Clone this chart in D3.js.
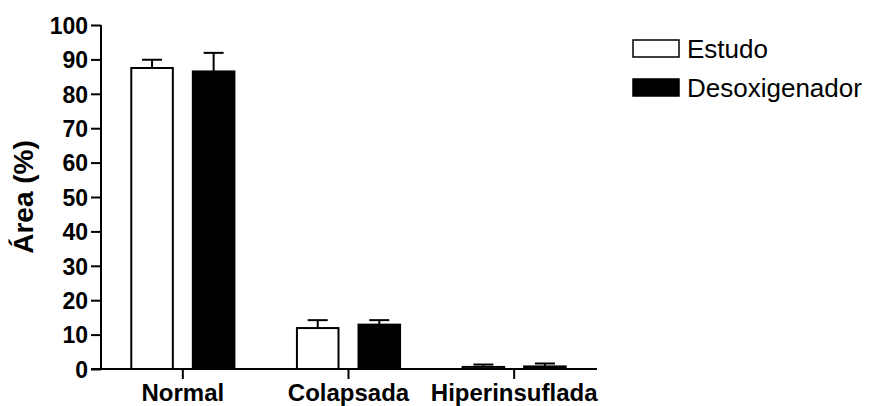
<!DOCTYPE html>
<html>
<head>
<meta charset="utf-8">
<script src="https://cdn.jsdelivr.net/npm/d3@7"></script>
<style>
  body { margin: 0; background: #fff; }
  text { font-family: "Liberation Sans", Arial, sans-serif; fill: #000; }
</style>
</head>
<body>
<div id="chart"></div>
<script>
// data
const categories = ["Normal", "Colapsada", "Hiperinsuflada"];
const seriesNames = ["Estudo", "Desoxigenador"];
const estudoMean = [87.5, 11.9, 0.6];
const estudoErr = [2.4, 2.3, 0.7];
const desoxMean = [86.5, 12.9, 0.75];
const desoxErr = [5.4, 1.3, 0.85];
const yTicks = [0, 10, 20, 30, 40, 50, 60, 70, 80, 90, 100];

const width = 869, height = 406;

const svg = d3.select("#chart").append("svg")
    .attr("width", width)
    .attr("height", height);

let rows = [];
categories.forEach((c, i) => {
    rows.push({cat: c, series: "Estudo", mean: estudoMean[i], err: estudoErr[i]});
    rows.push({cat: c, series: "Desoxigenador", mean: desoxMean[i], err: desoxErr[i]});
});

let y = d3.scaleLinear().domain([0, 100]).range([369, 25]);

let x = d3.scaleBand().domain(categories).range([100, 597]).padding(0);

let xInner = d3.scaleBand().domain(seriesNames)
    .range([0, x.bandwidth()])
    .paddingInner(0.325)
    .paddingOuter(0.508);

let fill = d3.scaleOrdinal().domain(seriesNames).range(["#fff", "#000"]);

// bars
svg.selectAll("rect.bar")
    .data(rows)
    .enter()
    .append("rect")
    .attr("class", "bar")
    .attr("x", d => x(d.cat) + xInner(d.series))
    .attr("y", d => y(d.mean))
    .attr("width", xInner.bandwidth())
    .attr("height", d => y(0) - y(d.mean))
    .attr("fill", d => fill(d.series))
    .attr("stroke", "#000")
    .attr("stroke-width", 2);

// error bars (upper only)
let cap = 10;
let err = svg.selectAll("g.err")
    .data(rows)
    .enter()
    .append("g")
    .attr("class", "err")
    .attr("transform", d => "translate(" + (x(d.cat) + xInner(d.series) + xInner.bandwidth() / 2) + ",0)");
err.append("line")
    .attr("x1", 0).attr("x2", 0)
    .attr("y1", d => y(d.mean))
    .attr("y2", d => y(d.mean + d.err))
    .attr("stroke", "#000")
    .attr("stroke-width", 2);
err.append("line")
    .attr("x1", -cap).attr("x2", cap)
    .attr("y1", d => y(d.mean + d.err))
    .attr("y2", d => y(d.mean + d.err))
    .attr("stroke", "#000")
    .attr("stroke-width", 2);

// y axis
let yAxis = d3.axisLeft(y).tickValues(yTicks).tickSize(10).tickPadding(3);
let gy = svg.append("g")
    .attr("transform", "translate(101,0)")
    .call(yAxis);
gy.select(".domain").attr("stroke-width", 2).attr("d", "M0," + y(100) + "V" + y(0));
gy.selectAll(".tick line").attr("stroke-width", 2);
gy.selectAll(".tick text")
    .style("font-size", "23px")
    .style("font-weight", "bold")
    .attr("dy", "0.36em");

// x axis
let xAxis = d3.axisBottom(x).tickSize(10).tickPadding(5);
let gx = svg.append("g")
    .attr("transform", "translate(0," + y(0) + ")")
    .call(xAxis);
gx.select(".domain").attr("stroke-width", 2).attr("d", "M91,0H597");
gx.selectAll(".tick line").attr("stroke-width", 2);
gx.selectAll(".tick text")
    .style("font-size", "24px")
    .style("font-weight", "bold")
    .attr("dy", "0.71em");

// y label
svg.append("text")
    .attr("transform", "translate(33," + ((y(0) + y(100)) / 2) + ") rotate(-90)")
    .attr("text-anchor", "middle")
    .style("font-size", "28px")
    .style("font-weight", "bold")
    .text("Área (%)");

// legend
let legend = svg.selectAll("g.key")
    .data(seriesNames)
    .enter()
    .append("g")
    .attr("class", "key")
    .attr("transform", (d, i) => "translate(632," + (39 + i * 39) + ")");
legend.append("rect")
    .attr("x", 1).attr("y", 1)
    .attr("width", 46).attr("height", 17)
    .attr("fill", d => fill(d))
    .attr("stroke", "#000")
    .attr("stroke-width", 1.5);
legend.append("text")
    .attr("x", 55)
    .attr("y", 18.5)
    .style("font-size", "26px")
    .text(d => d);
</script>
</body>
</html>
